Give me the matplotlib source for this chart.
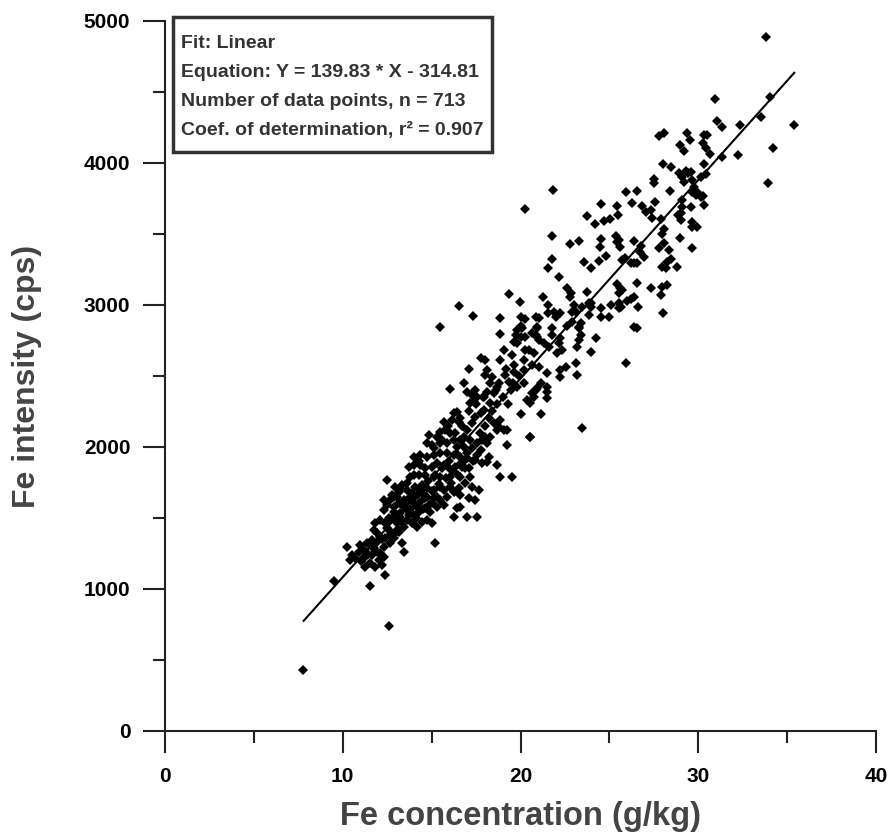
import matplotlib
matplotlib.use("Agg")
import matplotlib.pyplot as plt
from matplotlib.patches import Rectangle
from matplotlib.ticker import MultipleLocator

plt.rcParams['font.family'] = ['Liberation Sans', 'DejaVu Sans']
plt.rcParams['font.weight'] = 'bold'

# Fe concentration (g/kg) and Fe intensity (cps)
fe_conc = [
    # upper right
    33.8, 30.93, 31.04, 31.31, 32.36, 34.05, 33.52, 35.36, 34.23, 33.9, 32.24, 31.36, 30.67, 30.3, 30.5,
    30.29, 30.42, 30.33, 30.42, 30.14, 30.29, 30.33,
    27.8, 28.08, 29.35, 29.54, 28.96, 29.2, 28.02, 28.45, 28.92, 29.3, 29.62, 29.11, 29.43, 29.2, 29.67,
    27.51, 27.51, 25.92, 26.54, 28.39, 29.76, 29.95, 29.67, 29.86, 30.14, 27.57, 29.11, 26.29, 25.45, 25.5,
    26.82, 27.04, 27.32, 27.38, 29.11, 29.01, 28.88, 29.58, 29.01, 29.67, 29.95, 29.67, 27.89, 24.51, 24.7,
    25.03, 28.07, 27.98, 25.35, 25.54, 25.6, 25.45, 26.38, 28.96, 28.07, 27.79, 28.36, 28.45, 29.63, 26.76,
    26.95, 26.72, 24.79, 24.51, 25.86, 25.73, 26.2, 26.38, 26.54, 27.98, 28.17, 28.26, 28.83,
    # middle upper
    21.82, 20.28, 23.72, 24.17, 21.79, 22.76, 23.29, 24.45, 21.79, 21.54, 23.57, 23.98, 24.41,
    22.16, 22.63, 22.86, 22.78, 21.28, 21.54, 23.76, 23.85,
    25.45, 25.6, 25.73, 25.54, 26.38, 26.2, 26.01, 25.54, 25.63, 26.54, 27.32, 27.98, 27.89, 28.26, 26.61,
    23.0, 23.47, 22.91, 23.1, 23.94, 23.98, 24.51, 25.07, 25.54, 23.85, 24.51, 24.97, 28.03,
    20.0, 20.28, 20.85, 21.03, 21.54, 21.88, 21.97, 22.25,
    20.94, 21.79, 22.63, 22.91, 23.29, 23.38, 26.38, 26.57, 20.0,
    16.53, 17.33, 19.34, 19.96, 18.82, 18.87, 19.81, 20.1, 19.72, 20.0, 20.28, 20.94, 20.94, 15.49,
    20.52, 21.13, 23.47, 20.0, 20.66, 20.94, 20.56, 21.5, 20.19,
    # middle
    19.62, 19.81, 20.66, 20.85, 21.03, 21.31, 21.6, 21.79, 22.25, 22.16, 22.35, 22.07, 23.29, 23.38, 23.29,
    23.19, 24.23, 23.1, 22.54, 22.25, 22.25, 21.5, 21.03, 20.66, 20.19, 20.28, 20.47, 20.75, 20.19, 19.62,
    19.62, 19.15, 18.4, 19.06, 18.87, 18.12, 18.03, 17.75, 18.03, 18.12, 18.5, 17.93, 18.31, 18.69, 19.44,
    19.34, 18.78, 19.81, 20.38, 20.75, 21.5, 21.13, 20.85, 21.5, 23.19, 25.92, 23.94,
    17.09, 16.06, 16.81, 17.0, 17.28, 17.46, 17.56, 17.37, 17.18,
    16.43, 16.24, 16.62, 16.53, 16.15, 15.68, 15.49, 15.77, 16.06, 15.31, 14.84, 14.74, 15.02, 15.12, 15.49,
    15.87, 16.24, 16.62, 16.43, 16.81, 17.0, 17.28, 17.46, 17.75, 17.93, 18.22, 18.5, 18.87, 18.78, 19.06,
    18.69, 19.25, 18.31, 18.03, 17.84, 18.12, 17.56, 17.18, 17.56, 17.28, 17.0, 17.75, 17.46, 17.84, 16.9,
    16.62, 16.24, 15.87, 15.49, 15.12, 14.74, 14.37, 13.99, 13.99, 13.71, 14.37, 14.65, 15.02, 15.31, 15.68,
    15.96, 16.34, 16.71, 17.09, 17.18, 16.62, 16.06, 15.49, 15.12, 14.65, 14.27, 13.8, 18.69, 19.25, 20.56,
    18.87, 19.53, 18.22, 18.12,
    # lower left
    10.24, 10.52, 10.42, 10.7, 11.27, 11.17, 11.65, 11.93, 11.74, 12.11, 12.3, 12.02, 11.55, 12.3, 12.68,
    13.33, 13.43, 12.21, 11.83, 15.21, 10.99, 11.36, 11.65, 11.17,
    11.74, 11.93, 12.11, 12.39, 12.68, 12.96, 13.15, 12.86, 12.58,
    11.83, 12.11, 12.39, 12.68, 13.05, 13.43, 13.62, 13.9, 14.18, 14.46, 14.74, 15.02, 13.24, 12.96,
    16.24, 17.0, 17.56, 16.43, 16.62,
    12.3, 12.49, 12.86, 13.15, 12.68, 12.3, 13.05, 13.43, 13.71, 13.99, 14.37, 14.65, 14.93, 13.62, 13.9,
    14.27, 13.24, 13.43, 12.49,
    12.96, 13.15, 12.77, 13.33, 13.62, 13.9, 14.18, 14.46, 14.74, 15.12, 15.49, 15.87, 16.24, 15.68, 15.31,
    15.02, 14.08, 14.46, 14.74, 15.12, 15.49, 16.06, 16.53, 16.9, 17.28, 17.65, 16.62, 17.09, 17.46,
    9.52, 11.55, 12.36, 12.62, 7.76,
    # dense core, estimated
    12.6, 12.9, 13.3, 13.5, 13.8, 14.0, 14.2, 14.4, 14.6, 14.8, 15.0, 15.2, 15.4, 15.6, 15.8,
    16.0, 16.2, 16.4, 16.6, 16.8, 17.0, 13.1, 12.8, 12.5, 13.7, 14.1, 14.5, 14.9, 15.3, 15.7,
    16.1, 16.5, 16.9, 17.3, 17.7, 18.0, 18.4, 18.7, 19.0, 19.3, 19.6, 19.9, 14.3, 14.0, 13.6,
    13.2, 12.9, 15.6, 15.9, 16.3, 16.7, 17.1, 17.5, 17.9, 18.3, 18.6, 19.2, 19.5, 11.9, 12.2,
    11.4, 11.0, 10.9, 11.6,
]
fe_intensity = [
    4885, 4451, 4296, 4255, 4267, 4462, 4326, 4267, 4108, 3857, 4056, 4044, 4063, 4197, 4197,
    4138, 4108, 3993, 3922, 3903, 3770, 3702,
    4190, 4209, 4213, 4162, 4127, 4086, 3993, 3974, 3931, 3946, 3934, 3903, 3927, 3868, 3880,
    3885, 3861, 3798, 3805, 3805, 3833, 3798, 3798, 3775, 3763, 3727, 3739, 3716, 3697, 3634,
    3697, 3657, 3669, 3610, 3692, 3646, 3634, 3687, 3599, 3587, 3547, 3551, 3603, 3711, 3592,
    3606, 3533, 3498, 3486, 3457, 3410, 3446, 3453, 3469, 3434, 3399, 3387, 3322, 3399, 3415,
    3336, 3375, 3345, 3463, 3329, 3317, 3293, 3298, 3298, 3270, 3263, 3305, 3270,
    3810, 3674, 3627, 3568, 3486, 3429, 3451, 3410, 3324, 3258, 3305, 3258, 3312,
    3195, 3122, 3082, 3058, 3058, 3000, 3094, 3016,
    3146, 3118, 3105, 3082, 3058, 3040, 3028, 3011, 2988, 3153, 3117, 3129, 3070, 3141, 2988,
    3000, 2988, 2953, 2953, 3011, 2988, 2981, 3000, 2977, 2930, 2918, 2913, 2946,
    2918, 2899, 2918, 2906, 2941, 2953, 2918, 2946,
    2847, 2840, 2852, 2882, 2845, 2871, 2847, 2840, 2850,
    2995, 2922, 3075, 3019, 2911, 2794, 2824, 2836, 2789, 2777, 2777, 2836, 2777, 2843,
    2068, 2232, 2136, 2232, 2377, 2413, 2307, 2389, 2448,
    2741, 2730, 2805, 2789, 2753, 2730, 2706, 2789, 2765, 2730, 2683, 2659, 2835, 2789, 2753,
    2706, 2771, 2589, 2565, 2542, 2495, 2518, 2565, 2577, 2612, 2683, 2683, 2659, 2542, 2530,
    2577, 2507, 2495, 2683, 2612, 2542, 2612, 2624, 2507, 2389, 2377, 2354, 2307, 2424, 2401,
    2460, 2448, 2424, 2331, 2354, 2424, 2448, 2401, 2342, 2507, 2589, 2671,
    2547, 2406, 2448, 2389, 2366, 2401, 2354, 2319, 2307,
    2249, 2237, 2202, 2178, 2190, 2178, 2108, 2120, 2096, 2072, 2084, 2026, 2014, 1991, 2026,
    2026, 2049, 2049, 2002, 2072, 2120, 2167, 2213, 2237, 2260, 2202, 2167, 2190, 2143, 2120,
    2120, 2120, 2072, 2072, 2049, 2026, 2026, 2049, 1944, 1991, 1955, 1979, 1908, 1885, 1908,
    1932, 1944, 1955, 1955, 1944, 1932, 1944, 1932, 1873, 1861, 1873, 1850, 1861, 1885, 1873,
    1850, 1861, 1861, 1850, 1791, 1791, 1791, 1791, 1791, 1803, 1803, 1791, 1873, 2014, 2072,
    1791, 1791, 1932, 1897,
    1298, 1239, 1204, 1216, 1157, 1216, 1239, 1263, 1286, 1251, 1228, 1204, 1181, 1298, 1321,
    1321, 1263, 1169, 1157, 1326, 1310, 1321, 1345, 1275,
    1416, 1392, 1369, 1357, 1380, 1392, 1404, 1357, 1416,
    1463, 1486, 1463, 1486, 1463, 1439, 1486, 1463, 1439, 1474, 1486, 1463, 1509, 1521,
    1509, 1509, 1509, 1568, 1579,
    1556, 1591, 1579, 1603, 1626, 1626, 1650, 1626, 1638, 1603, 1615, 1568, 1544, 1556, 1533,
    1544, 1533, 1579, 1768,
    1720, 1685, 1662, 1732, 1697, 1673, 1662, 1673, 1650, 1638, 1626, 1650, 1685, 1591, 1579,
    1603, 1720, 1732, 1709, 1697, 1720, 1720, 1709, 1744, 1720, 1697, 1662, 1638, 1626,
    1058, 1023, 1099, 739, 430,
    1500, 1540, 1480, 1600, 1560, 1650, 1580, 1700, 1640, 1760, 1690, 1800, 1740, 1850, 1780,
    1900, 1830, 1950, 1880, 2000, 1920, 1420, 1380, 1430, 1520, 1500, 1560, 1600, 1650, 1700,
    1750, 1800, 1850, 1900, 2100, 2150, 2250, 2300, 2350, 2300, 2450, 2500, 1900, 1800, 1750,
    1700, 1650, 2050, 2150, 2100, 2150, 2250, 2300, 2350, 2450, 2400, 2550, 2650, 1330, 1350,
    1250, 1200, 1260, 1300,
]

slope = 139.83
intercept = -314.81
fit_x = [7.8, 35.4]
n_points = 713
r2 = 0.907

fig = plt.figure(figsize=(8.93, 8.36), dpi=100)
ax = fig.add_axes([165 / 893, 105 / 836, 711 / 893, 710 / 836])

ax.plot(fe_conc, fe_intensity, 'D', color='black', ms=4.6, mew=0)
ax.plot(fit_x, [slope * x + intercept for x in fit_x], '-', color='black', lw=1.5)

ax.set_xlim(0, 40)
ax.set_ylim(0, 5000)
ax.spines['top'].set_visible(False)
ax.spines['right'].set_visible(False)
for s in ['left', 'bottom']:
    ax.spines[s].set_linewidth(1.5)
    ax.spines[s].set_color('#222222')

ax.xaxis.set_major_locator(MultipleLocator(10))
ax.xaxis.set_minor_locator(MultipleLocator(5))
ax.yaxis.set_major_locator(MultipleLocator(1000))
ax.yaxis.set_minor_locator(MultipleLocator(500))
ax.tick_params(which='major', direction='out', length=16, width=1.5, color='#222222', labelsize=15)
ax.tick_params(which='minor', direction='out', length=8.5, width=1.5, color='#222222')
ax.tick_params(axis='x', which='major', pad=10)
ax.tick_params(axis='y', which='major', pad=9)
for lab in ax.get_xticklabels() + ax.get_yticklabels():
    lab.set_fontweight('bold')

ax.set_xlabel('Fe concentration (g/kg)', fontsize=23.5, fontweight='bold', color='#444444', labelpad=11)
ax.set_ylabel('Fe intensity (cps)', fontsize=23, fontweight='bold', color='#444444', labelpad=30)

# fit summary box
lines = ['Fit: Linear',
         'Equation: Y = %.2f * X - %.2f' % (slope, -intercept),
         'Number of data points, n = %d' % n_points,
         'Coef. of determination, r\u00b2 = %.3f' % r2]
texts = []
for i, t in enumerate(lines):
    texts.append(fig.text(181 / 893, 1 - (44 + i * 28.7) / 836, t, fontsize=14,
                          fontweight='bold', color='#333333', va='center', ha='left'))

fig.canvas.draw()
right = max(t.get_window_extent().x1 for t in texts) + 8
fig.add_artist(Rectangle((173 / 893, 1 - 152 / 836), (right - 173) / 893, 135 / 836,
                         transform=fig.transFigure, fill=False, lw=2.5, ec='#333333'))

fig.savefig('out.png', dpi=100)
